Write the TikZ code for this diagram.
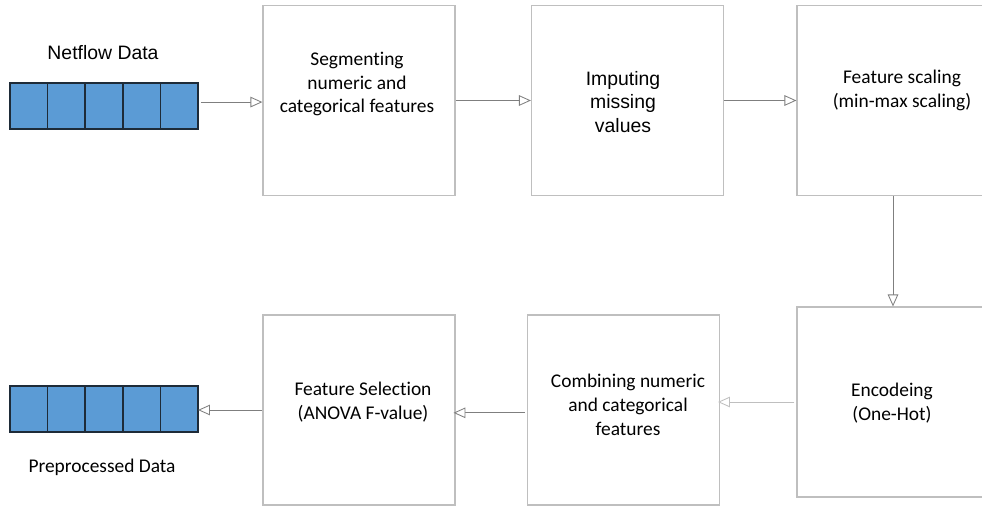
\documentclass[tikz,border=0pt]{standalone}
\usepackage{fontspec}
\setmainfont{Carlito}[Ligatures={NoCommon}]
\newfontfamily\arialfont{Liberation Sans}
\usetikzlibrary{arrows.meta,positioning,calc}
\definecolor{cellblue}{HTML}{5B9BD5}
\definecolor{celledge}{HTML}{1E2B38}
\definecolor{boxedge}{HTML}{BFBFBF}
\definecolor{flowgray}{HTML}{7F7F7F}
\tikzset{
    stage/.style =  {rectangle,
                    draw=boxedge,
                    fill=white,
                    line width=0.8pt,
                    minimum width=4.8cm,
                    minimum height=4.75cm,
                    inner sep=0pt},
    cell/.style =   {rectangle,
                    fill=cellblue,
                    draw=celledge,
                    line width=1.1pt,
                    minimum width=0.94cm,
                    minimum height=1.15cm,
                    inner sep=0pt,
                    outer sep=0pt},
    txt/.style =    {align=center,
                    font=\fontsize{13.8pt}{17pt}\selectfont,
                    inner sep=0pt},
    flow/.style =   {draw=flowgray,
                    line width=0.6pt,
                    -{Triangle[open,length=8.5pt,width=7.5pt,fill=white]}},
    -,
    >=Stealth}

\begin{document}
\begin{tikzpicture}[x=0.025cm,y=-0.025cm]
            \useasboundingbox (0,0) rectangle (982,506);

            % input and output records
            \node[cell] (in1) at (28.8,106) {};
            \foreach \i [remember=\i as \j (initially 1)] in {2,...,5}
                \node[cell,right=0pt of in\j] (in\i) {};
            \node[cell] (out1) at (28.8,409) {};
            \foreach \i [remember=\i as \j (initially 1)] in {2,...,5}
                \node[cell,right=0pt of out\j] (out\i) {};

            \node[txt,font=\arialfont\fontsize{13.8pt}{17pt}\selectfont] (netflow) at (103,53) {Netflow Data};
            \node[txt] (prep) at (102,467) {Preprocessed Data};

            % stages
            \node[stage]                  (seg)  at (359,100.5)  {};
            \node[stage]                  (imp)  at (627.5,100.5) {};
            \node[stage]                  (scal) at (893,100.5)  {};
            \node[stage]                  (enc)  at (893,402)    {};
            \node[stage]                  (comb) at (623.5,410)  {};
            \node[stage]                  (sel)  at (359,410)    {};

            \node[txt] (segT) at (357,84)  {Segmenting\\numeric and\\categorical features};
            \node[txt,font=\arialfont\fontsize{13.8pt}{17pt}\selectfont] (impT) at (623,102) {Imputing\\missing\\values};
            \node[txt] (scalT) at (902,90) {Feature scaling\\(min-max scaling)};
            \node[txt] (encT) at (892,403) {Encodeing\\(One-Hot)};
            \node[txt] (combT) at (628,405) {Combining numeric\\and categorical\\features};
            \node[txt] (selT) at (363,402) {Feature Selection\\(ANOVA F-value)};

            % connectors
            \draw[flow]  ([xshift=2pt,yshift=2.8pt]in5.east) -- ([yshift=2.8pt]in5.east -| seg.west);
            \draw[flow]  (seg.east) -- (imp.west);
            \draw[flow]  (imp.east) -- (scal.west);
            \draw[flow]  (scal.south) -- (enc.north);
            \draw[flow,draw=boxedge]  ([xshift=-1.5pt]enc.west) -- ([xshift=-1.5pt]enc.west -| comb.east);
            \draw[flow]  ([xshift=-1.5pt,yshift=-2pt]comb.west) -- ([xshift=-1.5pt,yshift=-2pt]comb.west -| sel.east);
            \draw[flow]  (sel.west) -- (sel.west -| out5.east);
        \end{tikzpicture}
\end{document}
